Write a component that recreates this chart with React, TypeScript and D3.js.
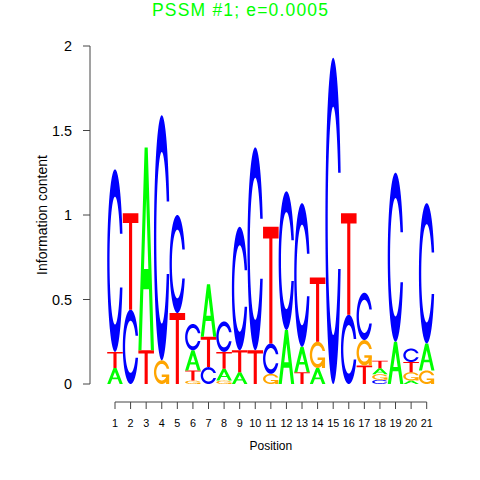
import React from "react";
import * as d3 from "d3";

const title = "PSSM #1; e=0.0005";
const positions = [1, 2, 3, 4, 5, 6, 7, 8, 9, 10, 11, 12, 13, 14, 15, 16, 17, 18, 19, 20, 21];
const letters = ["A", "C", "G", "T"];
const heightA = [0.095, 0, 1.2, 0, 0, 0.12, 0.31, 0.07, 0.07, 0, 0, 0.32, 0.15, 0.095, 0, 0, 0, 0.035, 0.25, 0.02, 0.16];
const heightC = [1.08, 0.44, 0, 1.45, 0.58, 0.155, 0.1, 0.18, 0.73, 1.2, 0.18, 0.82, 0.85, 0, 1.93, 0.41, 0.28, 0.025, 1.0, 0.08, 0.83];
const heightG = [0, 0, 0, 0.14, 0, 0.02, 0, 0.02, 0, 0, 0.06, 0, 0, 0.155, 0, 0, 0.15, 0.033, 0, 0.05, 0.08];
const heightT = [0.095, 0.57, 0.2, 0, 0.42, 0.06, 0.18, 0.1, 0.13, 0.2, 0.69, 0, 0.07, 0.38, 0, 0.6, 0.11, 0.045, 0, 0.06, 0];
const yTicks = [0, 0.5, 1, 1.5, 2];
const yTickLabels = ["0", "0.5", "1", "1.5", "2"];
const xLabel = "Position";
const yLabel = "Information content";

const letterColors: Record<string, string> = { A: "#00FF00", C: "#0000FF", G: "#FFA500", T: "#FF0000" };

type Pt = [number, number];

function seq(a: number, b: number, n: number) {
  const out: number[] = [];
  for (let i = 0; i < n; i++) out.push(a + ((b - a) * i) / (n - 1));
  return out;
}

function ringPolygon(): Pt[] {
  const a1 = seq(0.3 + Math.PI / 2, Math.PI, 100);
  const a2 = seq(Math.PI, 1.5 * Math.PI, 100);
  const xl1 = a1.map((a) => 0.5 + 0.5 * Math.sin(a));
  const yl1 = a1.map((a) => 0.5 + 0.5 * Math.cos(a));
  const xl2 = a2.map((a) => 0.5 + 0.5 * Math.sin(a));
  const yl2 = a2.map((a) => 0.5 + 0.5 * Math.cos(a));
  const xl = [...xl1, ...xl2];
  const yl = [...yl1, ...yl2];
  const x = [...xl, ...[...xl].reverse()];
  const y = [...yl, ...[...yl].reverse().map((v) => 1 - v)];
  const maxY = Math.max(...yl1);
  let xi1 = a1.map((a) => 0.5 + 0.35 * Math.sin(a));
  let yi1 = a1.map((a) => 0.5 + 0.35 * Math.cos(a));
  const keep = yi1.map((v) => v <= maxY);
  xi1 = xi1.filter((_, i) => keep[i]);
  yi1 = yi1.filter((_, i) => keep[i]);
  yi1[0] = maxY;
  const xi2 = a2.map((a) => 0.5 + 0.35 * Math.sin(a));
  const yi2 = a2.map((a) => 0.5 + 0.35 * Math.cos(a));
  const xi = [...xi1, ...xi2];
  const yi = [...yi1, ...yi2];
  const x1 = [...xi, ...[...xi].reverse()];
  const y1 = [...yi, ...[...yi].reverse().map((v) => 1 - v)];
  const X = [...x, ...[...x1].reverse()];
  const Y = [...y, ...[...y1].reverse()];
  return X.map((v, i) => [v, Y[i]] as Pt);
}

function glyph(letter: string): Pt[][] {
  if (letter === "A") {
    const xs = [0, 4, 6, 10, 8, 6.8, 3.2, 2, 0];
    const ys = [0, 10, 10, 0, 0, 3, 3, 0, 0];
    const hx = [3.6, 5, 6.4, 3.6];
    const hy = [4, 7.5, 4, 4];
    return [xs.map((v, i) => [v / 10, ys[i] / 10] as Pt), hx.map((v, i) => [v / 10, hy[i] / 10] as Pt)];
  }
  if (letter === "T") {
    const xs = [0, 10, 10, 6, 6, 4, 4, 0];
    const ys = [10, 10, 9, 9, 0, 0, 9, 9];
    return [xs.map((v, i) => [v / 10, ys[i] / 10] as Pt)];
  }
  const ring = ringPolygon();
  if (letter === "C") return [ring];
  const r1 = 0.5 + 0.5 * Math.sin(0.3 + Math.PI / 2);
  const h1 = 0.4;
  const xa = [r1, 0.5, 0.5, r1 - 0.2, r1 - 0.2, r1, r1];
  const ya = [h1, h1, h1 - 0.1, h1 - 0.1, 0, 0, h1];
  return [ring, xa.map((v, i) => [v, ya[i]] as Pt)];
}

const glyphs: Record<string, Pt[][]> = {
  A: glyph("A"),
  C: glyph("C"),
  G: glyph("G"),
  T: glyph("T"),
};

export default function App() {
  const x = d3.scaleLinear().domain([1, 21]).range([115, 426.7]);
  const y = d3.scaleLinear().domain([0, 2]).range([384, 46]);
  const heights: Record<string, number[]> = { A: heightA, C: heightC, G: heightG, T: heightT };
  const font = "'Liberation Sans', Arial, Helvetica, sans-serif";

  const marks: JSX.Element[] = [];
  positions.forEach((p, j) => {
    const stack = letters
      .map((l) => ({ l, h: heights[l][j] }))
      .filter((d) => d.h > 0)
      .sort((a, b) => a.h - b.h);
    let base = 0;
    stack.forEach(({ l, h }) => {
      const polys = glyphs[l];
      const b0 = base;
      const line = d3
        .line<Pt>()
        .x((d) => x(p - 0.5 + d[0]))
        .y((d) => y(b0 + d[1] * h));
      if (l === "A") {
        const dpath = polys.map((poly) => line(poly) + "Z").join(" ");
        marks.push(<path key={`${p}-${l}`} d={dpath} fill={letterColors[l]} fillRule="evenodd" />);
      } else {
        polys.forEach((poly, q) => {
          marks.push(<path key={`${p}-${l}-${q}`} d={line(poly) + "Z"} fill={letterColors[l]} />);
        });
      }
      base += h;
    });
  });

  const axisColor = "#444";
  return (
    <svg width={480} height={480} style={{ position: "absolute", left: 0, top: 0, background: "#fff" }}>
      <text
        x={240}
        y={16}
        textAnchor="middle"
        fontFamily={font}
        fontSize={17.5}
        fill="#00FF00"
        textLength={176}
        lengthAdjust="spacing"
      >
        {title}
      </text>
      {marks}
      {/* y axis */}
      <line x1={90} x2={90} y1={y(0)} y2={y(2)} stroke={axisColor} strokeWidth={1} />
      {yTicks.map((t, i) => (
        <g key={`yt${i}`}>
          <line x1={83} x2={90} y1={y(t)} y2={y(t)} stroke={axisColor} strokeWidth={1} />
          <text x={72} y={y(t)} dy="0.35em" textAnchor="end" fontFamily={font} fontSize={14.4} fill="#000">
            {yTickLabels[i]}
          </text>
        </g>
      ))}
      <text
        transform={`translate(47,215) rotate(-90)`}
        textAnchor="middle"
        fontFamily={font}
        fontSize={14}
        fill="#000"
      >
        {yLabel}
      </text>
      {/* x axis */}
      <line x1={x(1)} x2={x(21)} y1={402} y2={402} stroke={axisColor} strokeWidth={1} />
      {positions.map((p) => (
        <g key={`xt${p}`}>
          <line x1={x(p)} x2={x(p)} y1={402} y2={409} stroke={axisColor} strokeWidth={1} />
          <text x={x(p)} y={427} textAnchor="middle" fontFamily={font} fontSize={10.8} fill="#000">
            {String(p)}
          </text>
        </g>
      ))}
      <text x={(x(1) + x(21)) / 2} y={450} textAnchor="middle" fontFamily={font} fontSize={12} fill="#000">
        {xLabel}
      </text>
    </svg>
  );
}
